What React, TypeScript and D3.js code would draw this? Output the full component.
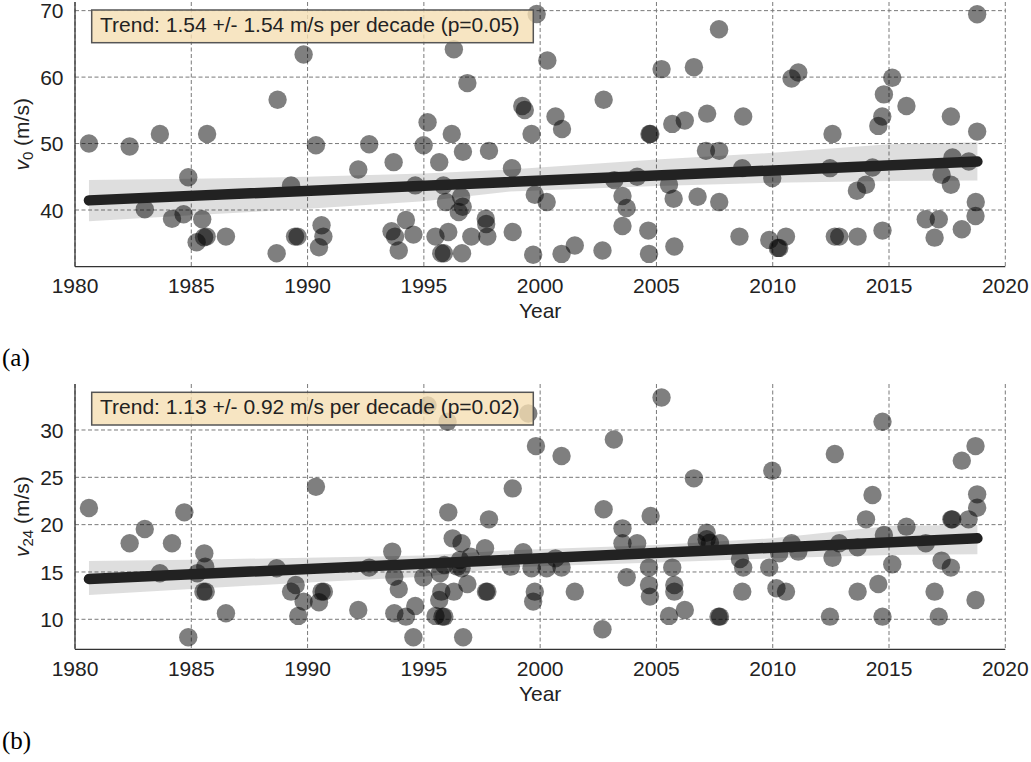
import { useEffect, useRef } from 'react';
import * as d3 from 'd3';

// tick values
const xTicks = [1980, 1985, 1990, 1995, 2000, 2005, 2010, 2015, 2020];
const v0Ticks = [40, 50, 60, 70];
const v24Ticks = [10, 15, 20, 25, 30];

// (year, v0) per storm
const v0Points: [number, number][] = [
  [1980.6, 50.0], [1982.35, 49.55], [1983.65, 51.45], [1983.0, 40.1], [1984.17, 38.67],
  [1984.67, 39.37], [1984.87, 44.94], [1985.23, 35.16], [1985.47, 38.62], [1985.55, 35.9],
  [1985.66, 36.0], [1985.68, 51.45], [1986.49, 36.0], [1988.67, 33.5], [1988.71, 56.6],
  [1989.29, 43.7], [1989.46, 36.0], [1989.57, 36.0], [1989.83, 63.4], [1990.36, 49.75],
  [1990.49, 34.4], [1990.6, 37.7], [1990.68, 36.0], [1992.18, 46.1], [1992.65, 49.9],
  [1993.7, 47.2], [1993.61, 36.8], [1993.76, 36.0], [1993.92, 33.9], [1994.23, 38.5],
  [1994.55, 36.3], [1994.63, 43.7], [1994.99, 49.75], [1995.16, 53.2], [1995.5, 36.0],
  [1995.66, 47.2], [1995.75, 33.5], [1995.86, 33.5], [1995.84, 43.7], [1995.95, 41.2],
  [1996.05, 36.7], [1996.2, 51.45], [1996.29, 64.2], [1996.5, 39.7], [1996.6, 42.0],
  [1996.67, 40.5], [1996.68, 48.75], [1996.64, 33.5], [1996.87, 59.1], [1997.04, 36.0],
  [1997.66, 38.7], [1997.68, 37.9], [1997.73, 36.0], [1997.8, 48.9], [1998.79, 46.3],
  [1998.82, 36.7], [1999.23, 55.66], [1999.34, 55.06], [1999.85, 69.5], [1999.63, 51.45],
  [1999.77, 42.3], [1999.7, 33.26], [2000.28, 41.2], [2000.31, 62.5], [2000.66, 54.06],
  [2000.94, 52.2], [2000.92, 33.4], [2001.49, 34.66], [2002.68, 33.9], [2002.73, 56.6],
  [2003.19, 44.5], [2003.54, 42.1], [2003.72, 40.3], [2003.54, 37.6], [2004.17, 45.0],
  [2004.65, 36.9], [2004.68, 33.4], [2004.7, 51.45], [2004.74, 51.45], [2005.22, 61.2],
  [2005.54, 43.8], [2005.68, 52.96], [2005.74, 41.7], [2005.77, 34.5], [2006.22, 53.46],
  [2006.61, 61.5], [2006.77, 42.0], [2007.18, 54.5], [2007.13, 48.9], [2007.69, 67.2],
  [2007.7, 48.9], [2007.7, 41.2], [2008.69, 46.3], [2008.73, 54.06], [2008.57, 36.0],
  [2009.85, 35.5], [2009.98, 44.8], [2010.22, 34.3], [2010.28, 34.3], [2010.57, 36.0],
  [2010.81, 59.8], [2011.1, 60.7], [2012.46, 46.3], [2012.57, 51.45], [2012.67, 36.0],
  [2012.86, 36.0], [2013.62, 42.9], [2013.65, 36.0], [2014.01, 43.8], [2014.29, 46.4],
  [2014.54, 52.66], [2014.71, 54.06], [2014.78, 57.4], [2014.72, 36.9], [2015.14, 59.9],
  [2015.75, 55.66], [2016.58, 38.6], [2017.14, 38.6], [2016.96, 35.84], [2017.26, 45.3],
  [2017.66, 43.8], [2017.73, 47.9], [2017.66, 54.06], [2018.13, 37.1], [2018.43, 47.3],
  [2018.73, 41.2], [2018.72, 39.1], [2018.79, 51.8], [2018.79, 69.45],
];

// (year, v24) per storm
const v24Points: [number, number][] = [
  [1980.6, 21.76], [1982.35, 18.03], [1983.0, 19.54], [1983.65, 14.86], [1984.17, 18.03],
  [1984.7, 21.3], [1984.87, 8.1], [1985.26, 14.86], [1985.56, 16.97], [1985.6, 15.56],
  [1985.52, 12.92], [1985.62, 12.92], [1986.49, 10.64], [1988.67, 15.39], [1989.29, 12.92],
  [1989.49, 13.63], [1989.6, 10.36], [1989.83, 11.87], [1990.36, 24.0], [1990.49, 11.8],
  [1990.6, 12.92], [1990.7, 12.92], [1992.18, 10.99], [1992.65, 15.46], [1993.64, 17.15],
  [1993.73, 14.5], [1993.73, 10.64], [1993.92, 13.2], [1994.23, 10.28], [1994.55, 8.1],
  [1994.63, 11.41], [1994.98, 14.44], [1995.16, 32.6], [1995.5, 10.36], [1995.66, 12.04],
  [1995.69, 14.86], [1995.75, 12.92], [1995.8, 10.28], [1995.88, 10.28], [1995.88, 15.74],
  [1996.02, 30.87], [1996.05, 21.3], [1996.24, 18.55], [1996.29, 12.92], [1996.44, 15.56],
  [1996.55, 16.27], [1996.62, 18.03], [1996.62, 15.39], [1996.69, 8.1], [1996.87, 13.73],
  [1997.01, 16.62], [1997.63, 17.5], [1997.67, 12.92], [1997.73, 12.92], [1997.8, 20.56],
  [1998.74, 15.56], [1998.82, 23.83], [1999.27, 17.08], [1999.63, 15.39], [1999.49, 31.75],
  [1999.82, 28.3], [1999.77, 12.92], [1999.7, 11.87], [2000.28, 15.39], [2000.66, 16.44],
  [2000.92, 15.46], [2000.92, 27.25], [2001.49, 12.92], [2002.68, 8.95], [2002.73, 21.62],
  [2003.17, 29.0], [2003.54, 19.61], [2003.54, 18.03], [2003.72, 14.44], [2004.17, 18.03],
  [2004.68, 15.46], [2004.68, 13.63], [2004.72, 12.4], [2004.75, 20.91], [2005.22, 33.44],
  [2005.54, 10.36], [2005.68, 15.46], [2005.77, 13.63], [2005.77, 12.92], [2006.22, 10.99],
  [2006.61, 24.89], [2006.73, 18.1], [2007.16, 19.15], [2007.16, 18.45], [2007.3, 18.1],
  [2007.73, 18.03], [2007.67, 10.28], [2007.73, 10.28], [2008.59, 16.37], [2008.69, 12.92],
  [2008.73, 15.46], [2009.85, 15.46], [2009.98, 25.7], [2010.16, 13.28], [2010.28, 16.97],
  [2010.57, 12.92], [2010.81, 18.03], [2011.1, 17.15], [2012.46, 10.28], [2012.57, 16.51],
  [2012.67, 27.46], [2012.86, 18.03], [2013.65, 12.92], [2013.65, 17.6], [2014.01, 20.56],
  [2014.29, 23.13], [2014.54, 13.73], [2014.72, 30.87], [2014.72, 10.28], [2014.78, 18.9],
  [2015.14, 15.81], [2015.75, 19.79], [2016.58, 18.03], [2016.96, 12.92], [2017.14, 10.28],
  [2017.26, 16.2], [2017.66, 15.46], [2017.68, 20.56], [2017.72, 20.56], [2018.13, 26.76],
  [2018.42, 20.56], [2018.72, 28.3], [2018.79, 23.2], [2018.79, 21.79], [2018.72, 12.04],
];

// confidence band edges
const bandYears = [1980.6, 1985, 1990, 1995, 1998.7, 2005, 2010, 2015, 2018.8];
const v0BandHi = [44.5, 44.7, 45.0, 45.5, 46.1, 47.6, 48.6, 49.9, 50.2];
const v0BandLo = [38.3, 39.2, 40.2, 41.3, 42.8, 43.6, 44.1, 44.35, 44.45];
const v24BandHi = [16.16, 16.3, 16.5, 16.75, 17.3, 17.85, 18.55, 19.86, 19.96];
const v24BandLo = [12.57, 13.2, 13.9, 14.5, 15.5, 16.0, 16.44, 16.8, 16.87];

// fitted trend end points
const v0Trend: [number, number][] = [[1980.6, 41.45], [2018.8, 47.3]];
const v24Trend: [number, number][] = [[1980.6, 14.26], [2018.8, 18.56]];

const v0Label = 'Trend: 1.54 +/- 1.54 m/s per decade (p=0.05)';
const v24Label = 'Trend: 1.13 +/- 0.92 m/s per decade (p=0.02)';

const W = 1031;
const H = 762;
const left = 75;
const right = 1005.3;
const font = '"Liberation Sans", Arial, sans-serif';

function drawPanel(svg: any, p: any) {
  const x = d3.scaleLinear().domain([1980, 2020]).range([left, right]);
  const y = d3.scaleLinear().domain(p.yDomain).range([p.bottom, p.top]);
  const g = svg.append('g');

  // grid
  g.selectAll('.vgrid').data(xTicks).join('line')
    .attr('x1', (d: number) => x(d)).attr('x2', (d: number) => x(d))
    .attr('y1', p.top).attr('y2', p.bottom)
    .attr('stroke', '#7a7a7a').attr('stroke-width', 1).attr('stroke-dasharray', '4,2.5');
  g.selectAll('.hgrid').data(p.yTicks).join('line')
    .attr('x1', left).attr('x2', right)
    .attr('y1', (d: number) => y(d)).attr('y2', (d: number) => y(d))
    .attr('stroke', '#7a7a7a').attr('stroke-width', 1).attr('stroke-dasharray', '4,2.5');

  // ci band
  const area = d3.area<number>()
    .x((_, i) => x(bandYears[i]))
    .y0((_, i) => y(p.bandLo[i]))
    .y1((_, i) => y(p.bandHi[i]));
  g.append('path').attr('d', area(bandYears)).attr('fill', '#222').attr('fill-opacity', 0.15);

  // points
  g.selectAll('circle').data(p.points).join('circle')
    .attr('cx', (d: number[]) => x(d[0]))
    .attr('cy', (d: number[]) => y(d[1]))
    .attr('r', 9.2)
    .attr('fill', '#000')
    .attr('fill-opacity', 0.5);

  // trend line
  const line = d3.line<[number, number]>().x(d => x(d[0])).y(d => y(d[1]));
  g.append('path').attr('d', line(p.trend)).attr('stroke', '#222').attr('stroke-width', 10.5)
    .attr('stroke-linecap', 'round').attr('fill', 'none');

  // spines
  g.append('line').attr('x1', left).attr('x2', left).attr('y1', p.top).attr('y2', p.bottom)
    .attr('stroke', '#333').attr('stroke-width', 1.3);
  g.append('line').attr('x1', left).attr('x2', right).attr('y1', p.bottom).attr('y2', p.bottom)
    .attr('stroke', '#333').attr('stroke-width', 1.3);

  // tick labels
  g.selectAll('.xt').data(xTicks).join('text')
    .attr('x', (d: number) => x(d)).attr('y', p.bottom + 26.5)
    .attr('text-anchor', 'middle').attr('font-family', font).attr('font-size', 21).attr('fill', '#222')
    .text((d: number) => d);
  g.selectAll('.yt').data(p.yTicks).join('text')
    .attr('x', 63.5).attr('y', (d: number) => y(d)).attr('dy', '0.36em')
    .attr('text-anchor', 'end').attr('font-family', font).attr('font-size', 21).attr('fill', '#222')
    .text((d: number) => d);

  // axis titles
  g.append('text').attr('x', (left + right) / 2).attr('y', p.bottom + 51.5)
    .attr('text-anchor', 'middle').attr('font-family', font).attr('font-size', 21).attr('fill', '#222')
    .text('Year');
  const yl = g.append('text')
    .attr('transform', `translate(29, ${(p.top + p.bottom) / 2}) rotate(-90)`)
    .attr('text-anchor', 'middle').attr('font-family', font).attr('font-size', 21).attr('fill', '#222');
  yl.append('tspan').attr('font-style', 'italic').text('v');
  yl.append('tspan').attr('font-size', 15).attr('dy', 4).text(p.sub);
  yl.append('tspan').attr('dy', -4).text('\u00a0(m/s)');

  // trend box
  g.append('rect').attr('x', 91.7).attr('y', p.top + p.boxOffset).attr('width', 441.6).attr('height', 32.7)
    .attr('fill', '#f5deb3').attr('fill-opacity', 0.8).attr('stroke', '#555').attr('stroke-width', 1.5);
  g.append('text').attr('x', 100).attr('y', p.top + p.boxOffset + 22)
    .attr('font-family', font).attr('font-size', 21).attr('fill', '#222')
    .text(p.label);

  // panel tag
  svg.append('text').attr('x', 2).attr('y', p.tagY)
    .attr('font-family', '"Liberation Serif", "DejaVu Serif", serif').attr('font-size', 25).attr('fill', '#000')
    .text(p.tag);
}

export default function App() {
  const ref = useRef<SVGSVGElement>(null);

  useEffect(() => {
    const svg = d3.select(ref.current);
    svg.selectAll('*').remove();

    drawPanel(svg, {
      top: 2, bottom: 266.7, yDomain: [31.47, 71.3], yTicks: v0Ticks,
      points: v0Points, bandLo: v0BandLo, bandHi: v0BandHi, trend: v0Trend,
      sub: '0', label: v0Label, boxOffset: 8, tag: '(a)', tagY: 366,
    });
    drawPanel(svg, {
      top: 384, bottom: 649.3, yDomain: [6.83, 34.86], yTicks: v24Ticks,
      points: v24Points, bandLo: v24BandLo, bandHi: v24BandHi, trend: v24Trend,
      sub: '24', label: v24Label, boxOffset: 8.3, tag: '(b)', tagY: 749,
    });
  }, []);

  return (
    <svg ref={ref} width={W} height={H}
      style={{ position: 'absolute', left: 0, top: 0, background: '#fff' }} />
  );
}
